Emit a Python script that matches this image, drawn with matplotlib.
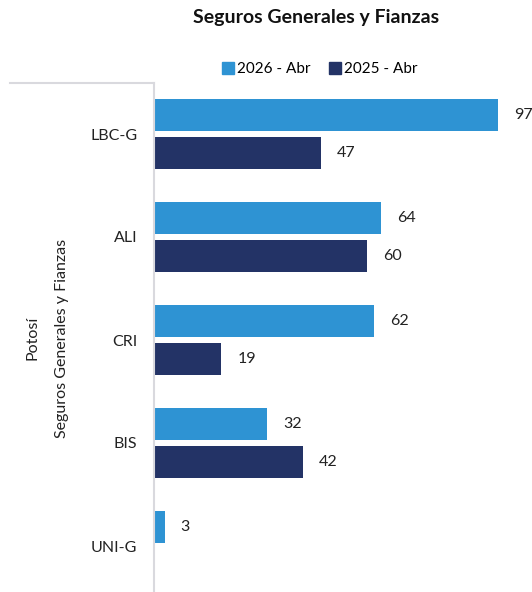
import numpy as np
import matplotlib.pyplot as plt
from matplotlib.lines import Line2D
from matplotlib.patches import Patch

plt.rcParams['font.family'] = ['Lato', 'DejaVu Sans']

companies = ['LBC-G', 'ALI', 'CRI', 'BIS', 'UNI-G']
abr_2026 = [97, 64, 62, 32, 3]
abr_2025 = [47, 60, 19, 42, None]

c_2026 = '#2E93D3'
c_2025 = '#233366'
grey = '#D9D9DE'

W, H = 532, 592
fig = plt.figure(figsize=(W / 100, H / 100), dpi=100)
ax = fig.add_axes([154 / W, 0, (W - 154) / W, (H - 83) / H])

y = np.arange(len(companies))
h = 0.31
off = 0.185
fs = 11.5

for i, (a, b) in enumerate(zip(abr_2026, abr_2025)):
    if a is not None:
        ax.barh(y[i] - off, a, height=h, color=c_2026)
        ax.text(a + 4.5, y[i] - off, str(a), va='center', ha='left', fontsize=fs, color='#222222')
    if b is not None:
        ax.barh(y[i] + off, b, height=h, color=c_2025)
        ax.text(b + 4.5, y[i] + off, str(b), va='center', ha='left', fontsize=fs, color='#222222')

ax.set_xlim(0, (W - 154) / 3.546)
ax.set_ylim((H - 134) / 103, -51 / 103)
ax.set_xticks([])
ax.set_yticks(y)
ax.set_yticklabels(companies, fontsize=fs, color='#222222')
ax.tick_params(axis='y', length=0, pad=12)
for s in ['top', 'right', 'bottom']:
    ax.spines[s].set_visible(False)
ax.spines['left'].set_color(grey)
ax.spines['left'].set_linewidth(1.5)

# header line of the category table
fig.add_artist(Line2D([10 / W, 154 / W], [1 - 83 / H, 1 - 83 / H], color=grey, lw=1.5))

fig.text(62 / W, 1 - 338 / H, 'Seguros Generales y Fianzas', rotation=90,
         ha='center', va='center', fontsize=fs, color='#222222')
fig.text(33 / W, 1 - 338 / H, 'Potosí', rotation=90,
         ha='center', va='center', fontsize=fs, color='#222222')

fig.text(316 / W, 1 - 18 / H, 'Seguros Generales y Fianzas', ha='center', va='center',
         fontsize=14, fontweight='bold', color='#111111')

handles = [Patch(color=c_2026, label='2026 - Abr'), Patch(color=c_2025, label='2025 - Abr')]
fig.legend(handles=handles, loc='center', bbox_to_anchor=(320 / W, 1 - 69 / H), ncol=2,
           frameon=False, fontsize=11, handlelength=0.8, handleheight=0.8,
           handletextpad=0.2, columnspacing=1.2)

fig.savefig('out.png', dpi=100)
